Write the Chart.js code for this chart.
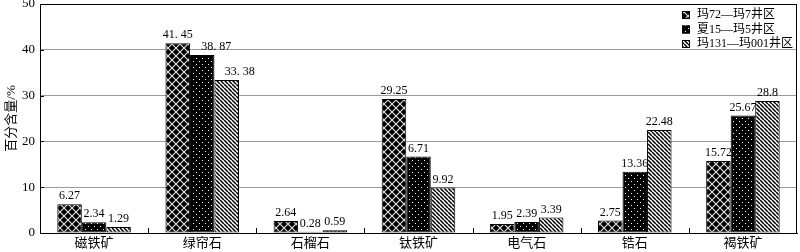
<!DOCTYPE html>
<html>
<head>
<meta charset="utf-8">
<script src="https://cdn.jsdelivr.net/npm/chart.js@4"></script>
<style>
  html, body { margin: 0; padding: 0; background: #fff; }
  #wrap { width: 800px; height: 252px; }
</style>
</head>
<body>
<div id="wrap"><canvas id="chart"></canvas></div>
<script>
// données
const categories = ["磁铁矿", "绿帘石", "石榴石", "钛铁矿", "电气石", "锆石", "褐铁矿"];
const seriesNames = ["玛72—玛7井区", "夏15—玛5井区", "玛131—玛001井区"];
const valuesA = [6.27, 41.45, 2.64, 29.25, 1.95, 2.75, 15.72];
const valuesB = [2.34, 38.87, 0.28, 16.71, 2.39, 13.36, 25.67];
const valuesC = [1.29, 33.38, 0.59, 9.92, 3.39, 22.48, 28.8];
// étiquettes telles qu'imprimées sur la figure
const textA = ["6.27", "41. 45", "2.64", "29.25", "1.95", "2.75", "15.72"];
const textB = ["2.34", "38. 87", "0.28", "6.71", "2.39", "13.36", "25.67"];
const textC = ["1.29", "33. 38", "0.59", "9.92", "3.39", "22.48", "28.8"];
const yTicks = [0, 10, 20, 30, 40, 50];

const FONT = '"Liberation Serif", "Noto Sans CJK SC", serif';
// décalage horizontal de quelques étiquettes (chevauchement dans l'original)
const labelShift = { "1-1": 14, "1-2": 13 };

// motifs de remplissage
function makePattern(kind) {
    const c = document.createElement("canvas");
    const g = c.getContext("2d");
    if (kind === "cross") {
        c.width = c.height = 8;
        g.fillStyle = "#000"; g.fillRect(0, 0, 8, 8);
        g.strokeStyle = "#e6e6e6"; g.lineWidth = 1.1;
        g.beginPath();
        g.moveTo(0, 0); g.lineTo(8, 8);
        g.moveTo(0, 8); g.lineTo(8, 0);
        g.stroke();
    } else if (kind === "dots") {
        c.width = c.height = 6;
        g.fillStyle = "#000"; g.fillRect(0, 0, 6, 6);
        g.fillStyle = "#fff";
        g.fillRect(1, 1, 1, 1);
        g.fillRect(4, 4, 1, 1);
    } else {
        c.width = c.height = 4;
        g.fillStyle = "#fff"; g.fillRect(0, 0, 4, 4);
        g.strokeStyle = "#000"; g.lineWidth = 1.5;
        g.beginPath();
        for (let x = -4; x <= 4; x += 4) { g.moveTo(x, 0); g.lineTo(x + 4, 4); }
        g.stroke();
    }
    return g.createPattern(c, "repeat");
}

const patterns = [makePattern("cross"), makePattern("dots"), makePattern("stripes")];
const texts = [textA, textB, textC];

// cadre, petites graduations, étiquettes et légende
const decorPlugin = {
    id: "decor",
    afterDatasetsDraw(chart) {
        const ctx = chart.ctx;
        const a = chart.chartArea;
        const xs = chart.scales.x, ys = chart.scales.y;
        ctx.save();
        // cadre
        ctx.strokeStyle = "#000"; ctx.lineWidth = 1;
        ctx.strokeRect(a.left + 0.5, a.top + 0.5, a.right - a.left - 1, a.bottom - a.top);
        // graduations y vers l'intérieur
        yTicks.forEach(v => {
            const y = Math.round(ys.getPixelForValue(v)) + 0.5;
            ctx.beginPath(); ctx.moveTo(a.left, y); ctx.lineTo(a.left + 4, y); ctx.stroke();
        });
        // graduations x entre catégories
        const step = xs.getPixelForValue(1) - xs.getPixelForValue(0);
        for (let i = 1; i < categories.length; i++) {
            const x = Math.round(xs.getPixelForValue(i) - step / 2) + 0.5;
            ctx.beginPath(); ctx.moveTo(x, a.bottom); ctx.lineTo(x, a.bottom - 5); ctx.stroke();
        }
        // étiquettes de valeur
        ctx.fillStyle = "#000";
        ctx.font = "12px " + FONT;
        ctx.textAlign = "center"; ctx.textBaseline = "bottom";
        chart.data.datasets.forEach((ds, di) => {
            chart.getDatasetMeta(di).data.forEach((bar, i) => {
                const dx = labelShift[i + "-" + di] || 0;
                ctx.fillText(texts[di][i], bar.x + dx, bar.y - 2);
            });
        });
        // légende
        ctx.font = "12px " + FONT;
        ctx.textAlign = "left"; ctx.textBaseline = "middle";
        seriesNames.forEach((name, i) => {
            const cy = 15 + i * 14.5;
            ctx.fillStyle = patterns[i];
            ctx.fillRect(682, cy - 4, 8, 8);
            ctx.strokeRect(682.5, cy - 3.5, 7, 7);
            ctx.fillStyle = "#000";
            ctx.fillText(name, 697, cy);
        });
        ctx.restore();
    }
};

document.addEventListener("DOMContentLoaded", () => {
    const ctx = document.getElementById("chart").getContext("2d");

    new Chart(ctx, {
        type: "bar",
        data: {
            labels: categories,
            datasets: [valuesA, valuesB, valuesC].map((vals, i) => ({
                label: seriesNames[i],
                data: vals,
                backgroundColor: patterns[i],
                borderColor: "#000",
                borderWidth: 1,
                borderSkipped: false,
                barPercentage: 1,
                categoryPercentage: 0.68
            }))
        },
        options: {
            responsive: true,
            maintainAspectRatio: false,
            animation: false,
            layout: { padding: { left: 0, right: 3, top: 4, bottom: 0 } },
            plugins: {
                legend: { display: false },
                tooltip: { enabled: false }
            },
            scales: {
                x: {
                    grid: { display: false, drawTicks: false },
                    border: { color: "#000", width: 1 },
                    ticks: { color: "#000", font: { family: FONT, size: 13 }, padding: 3 },
                    afterFit: s => { s.height = 19; s.paddingLeft = 0; s.paddingRight = 0; }
                },
                y: {
                    min: 0, max: 50,
                    afterBuildTicks: s => { s.ticks = yTicks.map(v => ({ value: v })); },
                    grid: { color: "#9a9a9a", drawTicks: false },
                    border: { color: "#000", width: 1 },
                    ticks: { color: "#000", font: { family: FONT, size: 13 }, padding: 5 },
                    title: {
                        display: true, text: "百分含量/%", color: "#000",
                        font: { family: FONT, size: 13 }, padding: { top: 4, bottom: 0 }
                    },
                    afterFit: s => { s.width = 40; s.paddingTop = 0; s.paddingBottom = 0; }
                }
            }
        },
        plugins: [decorPlugin]
    });
});
</script>
</body>
</html>
